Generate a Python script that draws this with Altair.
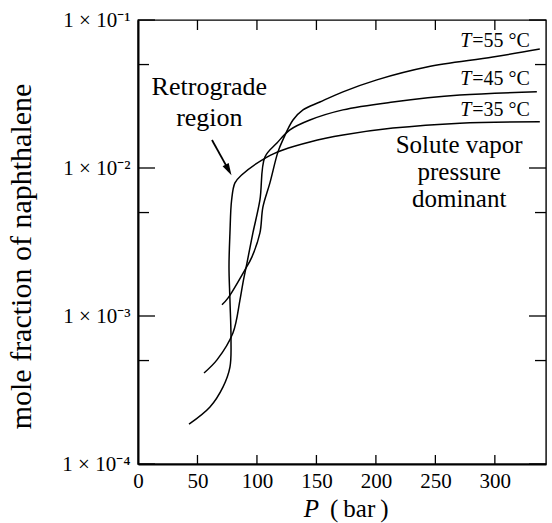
import math
import altair as alt
import pandas as pd

# Isotherms: pressure (bar) vs. mole fraction of naphthalene in the fluid phase
p35 = [42.9, 60.5, 71.4, 77.3, 78.2, 77.3, 76.5, 77.3, 78.7, 81.5, 87.1, 108.4,
       121.8, 144.5, 172.3, 214.3, 270.6, 337.8]
y35 = [1.86e-4, 2.43e-4, 3.31e-4, 4.52e-4, 6.89e-4, 1.28e-3, 2.14e-3, 3.64e-3,
       6.08e-3, 7.93e-3, 8.97e-3, 0.01186, 0.01324, 0.0150, 0.0167, 0.0186,
       0.0201, 0.0205]

p45 = [55.5, 66.4, 79.8, 85.7, 88.2, 91.6, 96.6, 102.5, 106.7, 116.8, 127.7,
       144.5, 172.3, 214.3, 270.6, 335.3]
y45 = [4.12e-4, 5.05e-4, 7.67e-4, 1.28e-3, 1.67e-3, 2.28e-3, 3.64e-3, 6.08e-3,
       0.01186, 0.01476, 0.0181, 0.0211, 0.0247, 0.0279, 0.0311, 0.0327]

p55 = [70.6, 75.6, 89.9, 95.8, 102.5, 105.0, 110.9, 117.6, 121.8, 130.3, 138.7,
       152.9, 172.3, 200.8, 242.9, 298.3, 337.8]
y55 = [1.19e-3, 1.32e-3, 2.05e-3, 2.51e-3, 3.64e-3, 5.44e-3, 7.93e-3, 0.0128,
       0.0155, 0.0211, 0.0247, 0.0279, 0.0327, 0.0394, 0.0481, 0.0562, 0.0637]

# Axis ticks and labels
x_ticks = [0, 50, 100, 150, 200, 250, 300]
y_major = [1e-4, 1e-3, 1e-2, 1e-1]
y_minor = [5e-4, 5e-3, 5e-2]
y_tick_labels = ["1 × 10⁻⁴", "1 × 10⁻³", "1 × 10⁻²", "1 × 10⁻¹"]

# Isotherm labels (drawn just above the right end of each curve)
iso_names = ["=55 °C", "=45 °C", "=35 °C"]
iso_label_p = [281, 281, 281]
iso_label_y = [0.0658, 0.0364, 0.0225]

# Text annotations
note_lines = ["Retrograde", "region", "Solute vapor", "pressure", "dominant"]
note_p = [60, 60, 270, 270, 270]
note_y = [0.0352, 0.0218, 0.01429, 0.00939, 0.00618]
note_size = [26, 26, 25, 25, 25]

# Arrow pointing at the retrograde knee of the 35 °C isotherm
arrow_tail = (62.2, 0.01545)
arrow_head = (76.0, 0.00975)

FONT = "Liberation Serif"
W, H = 408, 444

rows = []
for name, ps, yv in (("35", p35, y35), ("45", p45, y45), ("55", p55, y55)):
    for i, (p, y) in enumerate(zip(ps, yv)):
        rows.append({"T": name, "P": p, "y": y, "i": i})
curves = pd.DataFrame(rows)

xs = alt.Scale(domain=[0, 343], nice=False, zero=False)
ys = alt.Scale(type="log", domain=[1e-4, 1e-1], nice=False)

# label expression built from the tick label list
expr = "''"
for v, lab in zip(y_major, y_tick_labels):
    expr = (f"(abs(log(datum.value)/LN10 - ({math.log10(v):.3f})) < 0.01"
            f" ? '{lab}' : {expr})")

lines = alt.Chart(curves).mark_line(
    color="black", strokeWidth=1.5, interpolate="catmull-rom"
).encode(
    x=alt.X("P:Q", scale=xs, axis=alt.Axis(
        values=x_ticks, ticks=False, grid=False, title=None,
        labelFont=FONT, labelFontSize=21, labelColor="black", labelPadding=6,
        domainColor="black", domainWidth=2, labelFlush=False)),
    y=alt.Y("y:Q", scale=ys, axis=alt.Axis(
        values=y_major, ticks=False, grid=False, labelExpr=expr,
        labelFont=FONT, labelFontSize=21, labelColor="black", labelPadding=8,
        domainColor="black", domainWidth=2,
        title="mole fraction of naphthalene", titleFont=FONT, titleFontSize=30,
        titleFontWeight="normal", titleColor="black", titleAngle=270,
        titleX=-117, titleY=236, titleAlign="center", titleBaseline="middle")),
    detail="T:N",
    order="i:Q",
)

tick_x = pd.DataFrame({"P": x_ticks[1:]})
bottom_ticks = alt.Chart(tick_x).mark_rule(color="black", strokeWidth=1.3).encode(
    x=alt.X("P:Q", scale=xs), y=alt.value(H), y2=alt.value(H - 9))
top_ticks = alt.Chart(tick_x).mark_rule(color="black", strokeWidth=1.3).encode(
    x=alt.X("P:Q", scale=xs), y=alt.value(0), y2=alt.value(10))

maj = pd.DataFrame({"y": y_major})
mnr = pd.DataFrame({"y": y_minor})
left_major = alt.Chart(maj).mark_rule(color="black", strokeWidth=1.3).encode(
    y=alt.Y("y:Q", scale=ys), x=alt.value(0), x2=alt.value(17))
left_minor = alt.Chart(mnr).mark_rule(color="black", strokeWidth=1.3).encode(
    y=alt.Y("y:Q", scale=ys), x=alt.value(0), x2=alt.value(11))
right_major = alt.Chart(maj).mark_rule(color="black", strokeWidth=1.3).encode(
    y=alt.Y("y:Q", scale=ys), x=alt.value(W), x2=alt.value(W - 17))
right_minor = alt.Chart(mnr).mark_rule(color="black", strokeWidth=1.3).encode(
    y=alt.Y("y:Q", scale=ys), x=alt.value(W), x2=alt.value(W - 11))

iso_df = pd.DataFrame({"P": iso_label_p, "y": iso_label_y, "txt": iso_names})
iso_rest = alt.Chart(iso_df).mark_text(
    font=FONT, fontSize=20, align="left", baseline="alphabetic", color="black"
).encode(x=alt.X("P:Q", scale=xs), y=alt.Y("y:Q", scale=ys), text="txt:N")
iso_T = alt.Chart(iso_df).mark_text(
    font=FONT, fontSize=20, fontStyle="italic", align="right",
    baseline="alphabetic", color="black", dx=-1
).encode(x=alt.X("P:Q", scale=xs), y=alt.Y("y:Q", scale=ys), text=alt.value("T"))

notes_df = pd.DataFrame({"P": note_p, "y": note_y, "txt": note_lines,
                         "fs": note_size})
notes = alt.Chart(notes_df).mark_text(
    font=FONT, align="center", baseline="middle", color="black"
).encode(x=alt.X("P:Q", scale=xs), y=alt.Y("y:Q", scale=ys), text="txt:N",
         size=alt.Size("fs:Q", scale=None, legend=None))

arrow_df = pd.DataFrame({"P": [arrow_tail[0]], "y": [arrow_tail[1]],
                         "P2": [arrow_head[0]], "y2": [arrow_head[1]]})
shaft = alt.Chart(arrow_df).mark_rule(color="black", strokeWidth=1.8).encode(
    x=alt.X("P:Q", scale=xs), y=alt.Y("y:Q", scale=ys), x2="P2:Q", y2="y2:Q")
head = alt.Chart(arrow_df).mark_point(
    shape="M0,-1L0.55,0.9L-0.55,0.9Z", filled=True, color="black", size=160,
    angle=151, opacity=1
).encode(x=alt.X("P2:Q", scale=xs), y=alt.Y("y2:Q", scale=ys))

xt_df = pd.DataFrame({"a": ["P"], "b": ["(\u2009bar\u2009)"]})
xtitle_p = alt.Chart(xt_df).mark_text(
    font=FONT, fontSize=25, fontStyle="italic", align="right",
    baseline="alphabetic", color="black"
).encode(x=alt.value(181), y=alt.value(497), text="a:N")
xtitle_b = alt.Chart(xt_df).mark_text(
    font=FONT, fontSize=25, align="left", baseline="alphabetic", color="black"
).encode(x=alt.value(192), y=alt.value(497), text="b:N")

chart = alt.layer(
    lines, bottom_ticks, top_ticks, left_major, left_minor, right_major,
    right_minor, iso_rest, iso_T, notes, shaft, head, xtitle_p, xtitle_b
).properties(
    width=W, height=H,
    autosize=alt.AutoSizeParams(type="none"),
    padding={"left": 138, "top": 20, "right": 6, "bottom": 59},
    background="white",
).configure_view(
    stroke="black", strokeWidth=1.4, clip=False
)

chart.save("out.html", embed_options={"renderer": "svg", "actions": False})
